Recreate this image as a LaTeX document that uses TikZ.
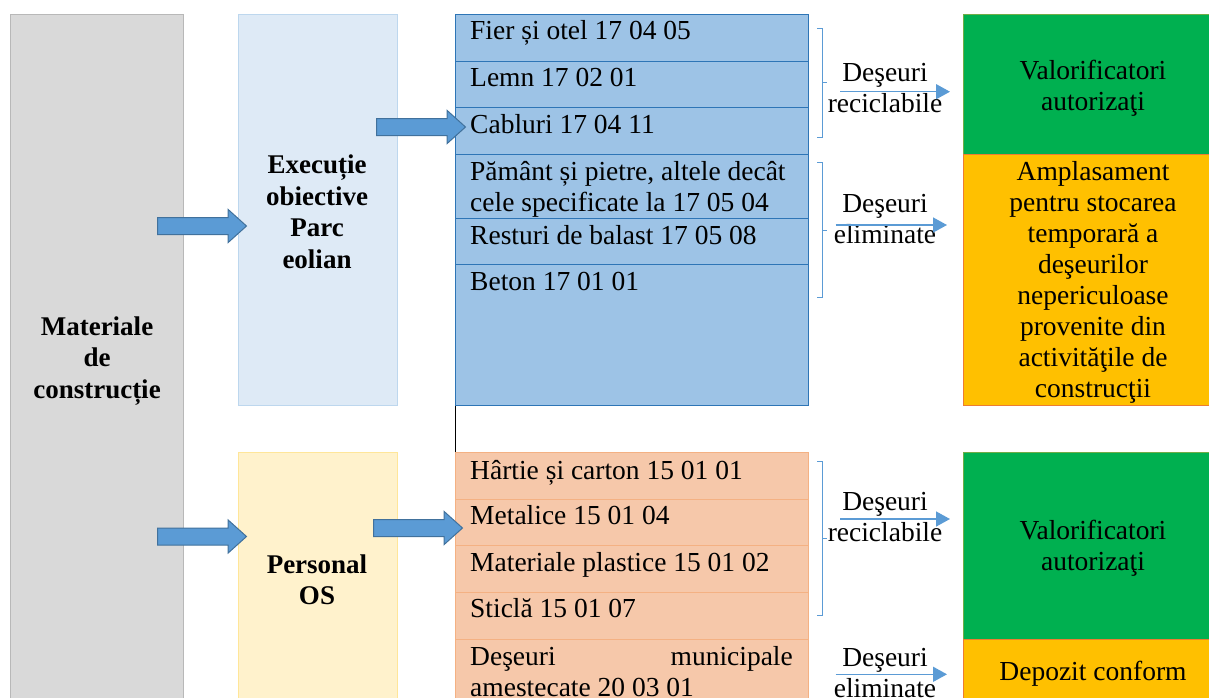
\documentclass[tikz,border=0pt]{standalone}
\usepackage{fontspec}
\setmainfont{Liberation Serif}
\usetikzlibrary{arrows.meta,shapes.arrows}
\definecolor{matfill}{HTML}{D9D9D9}
\definecolor{matline}{HTML}{B8B8B8}
\definecolor{execfill}{HTML}{DEEAF6}
\definecolor{execline}{HTML}{BDD7EE}
\definecolor{persfill}{HTML}{FFF2CC}
\definecolor{persline}{HTML}{FFE699}
\definecolor{cellbluefill}{HTML}{9DC3E6}
\definecolor{cellblueline}{HTML}{2E75B6}
\definecolor{cellorangefill}{HTML}{F6C8AA}
\definecolor{cellorangeline}{HTML}{F4B183}
\definecolor{arrowfill}{HTML}{5B9BD5}
\definecolor{arrowline}{HTML}{41719C}
\definecolor{valfill}{HTML}{00B050}
\definecolor{valline}{HTML}{70AD47}
\definecolor{depfill}{HTML}{FFC000}
\definecolor{depline}{HTML}{ED7D31}
\tikzset{
	txt/.style={font=\fontsize{27.5}{31}\selectfont,inner sep=0pt},
	hdr/.style={font=\fontsize{27}{31.5}\selectfont\bfseries,inner sep=0pt,align=center},
	box/.style={anchor=north west,inner sep=0pt,line width=1pt},
	cellblue/.style={box,draw=cellblueline,fill=cellbluefill,minimum width=353pt},
	cellorange/.style={box,draw=cellorangeline,fill=cellorangefill,minimum width=353pt},
	bigarrow/.style={single arrow,anchor=tail,draw=arrowline,fill=arrowfill,line width=1pt,minimum height=89pt,minimum width=32pt,single arrow head extend=8pt,single arrow tip angle=84,inner xsep=0pt,inner ysep=8pt},
	wastearrow/.style={draw=arrowfill,line width=1.5pt,shorten >=13pt,-{Triangle[length=14pt,width=15pt]}},
	brace/.style={draw=arrowfill,line width=1pt}
}
\begin{document}
\begin{tikzpicture}[x=1pt,y=-1pt]
	\useasboundingbox (0,0) rectangle (1209,697);
	\clip (0,0) rectangle (1209,697);
	\node[box,draw=matline,fill=matfill,minimum width=173pt,minimum height=720pt] (mat) at (10,13.5) {};
	\node[box,draw=execline,fill=execfill,minimum width=159pt,minimum height=391.5pt] (exec) at (237.5,13.5) {};
	\node[box,draw=persline,fill=persfill,minimum width=159pt,minimum height=300pt] (pers) at (237.5,452) {};
	\node[hdr] (matlbl) at (97,361) {Materiale\\de\\construcție};
	\node[hdr] (execlbl) at (317,212) {Execuție\\obiective\\Parc\\eolian};
	\node[hdr] (perslbl) at (317,580) {Personal\\OS};
	\foreach \top/\h [count=\i] in {13.5/47,60.5/46.5,107/46.5,153.5/64,217.5/46.8,264.3/140.7}
		\node[cellblue,minimum height=\h pt] (b\i) at (455,\top) {};
	\foreach \top/\h [count=\i] in {452/46.5,498.5/46.5,545/47,592/46.5,638.5/120}
		\node[cellorange,minimum height=\h pt] (o\i) at (455,\top) {};
	\draw[line width=1pt] (b6.south west) -- (o1.north west);
	\node[txt,anchor=base west] (bt1) at (470,39) {Fier și otel 17 04 05};
	\node[txt,anchor=base west] (bt2) at (470,86) {Lemn 17 02 01};
	\node[txt,anchor=base west] (bt3) at (470,133) {Cabluri 17 04 11};
	\node[txt,anchor=base west] (bt4) at (470,180) {Pământ și pietre, altele decât};
	\node[txt,anchor=base west] (bt4b) at (470,211) {cele specificate la 17 05 04};
	\node[txt,anchor=base west] (bt5) at (470,244) {Resturi de balast 17 05 08};
	\node[txt,anchor=base west] (bt6) at (470,290) {Beton 17 01 01};
	\node[txt,anchor=base west] (ot1) at (470,479) {Hârtie și carton 15 01 01};
	\node[txt,anchor=base west] (ot2) at (470,524) {Metalice 15 01 04};
	\node[txt,anchor=base west] (ot3) at (470,571) {Materiale plastice 15 01 02};
	\node[txt,anchor=base west] (ot4) at (470,617) {Sticlă 15 01 07};
	\node[txt,anchor=base west] (ot5) at (470,665) {Deşeuri};
	\node[txt,anchor=base east] (ot5b) at (793,665) {municipale};
	\node[txt,anchor=base west] (ot5c) at (470,696) {amestecate 20 03 01};
	\node[bigarrow] (arr1) at (157,226) {};
	\node[bigarrow] (arr2) at (157,536.5) {};
	\node[bigarrow] (arr3) at (376,127) {};
	\node[bigarrow] (arr4) at (373,528) {};
	\draw[brace] (817,28) -- (822,28) -- (822,137) -- (817,137) (822,82.7) -- (827,82.7);
	\draw[brace] (817,162.7) -- (822,162.7) -- (822,297.7) -- (817,297.7) (822,230) -- (827,230);
	\draw[brace] (817,461.7) -- (822,461.7) -- (822,615) -- (817,615) (822,538) -- (827,538);
	\node[box,draw=valline,fill=valfill,minimum width=260pt,minimum height=140pt] (val1) at (963,13.5) {};
	\node[box,draw=depline,fill=depfill,minimum width=260pt,minimum height=251.5pt] (ampl) at (963,153.5) {};
	\node[box,draw=valline,fill=valfill,minimum width=260pt,minimum height=187pt] (val2) at (963,452) {};
	\node[box,draw=depline,fill=depfill,minimum width=260pt,minimum height=100pt] (dep) at (963,639) {};
	\node[txt,align=center] (val1lbl) at (1093,88) {Valorificatori\\autorizaţi};
	\node[txt,align=center] (ampllbl) at (1093,282) {Amplasament\\pentru stocarea\\temporară a\\deşeurilor\\nepericuloase\\provenite din\\activităţile de\\construcţii};
	\node[txt,align=center] (val2lbl) at (1093,548) {Valorificatori\\autorizaţi};
	\node[txt,anchor=base] (deplbl) at (1093,680) {Depozit conform};
	\node[txt,align=center] (rec1) at (885,88) {Deşeuri\\reciclabile};
	\node[txt,align=center] (elim1) at (885,219) {Deşeuri\\eliminate};
	\node[txt,align=center] (rec2) at (885,517) {Deşeuri\\reciclabile};
	\node[txt,align=center] (elim2) at (885,673) {Deşeuri\\eliminate};
	\coordinate (w1) at (840,91.7);
	\coordinate (w2) at (835.7,225);
	\coordinate (w3) at (840,519);
	\coordinate (w4) at (835.7,674.3);
	\draw[wastearrow] (w1) -- (w1 -| val1.west);
	\draw[wastearrow,shorten >=16pt] (w2) -- (w2 -| ampl.west);
	\draw[wastearrow] (w3) -- (w3 -| val2.west);
	\draw[wastearrow,shorten >=16pt] (w4) -- (w4 -| dep.west);
\end{tikzpicture}
\end{document}
